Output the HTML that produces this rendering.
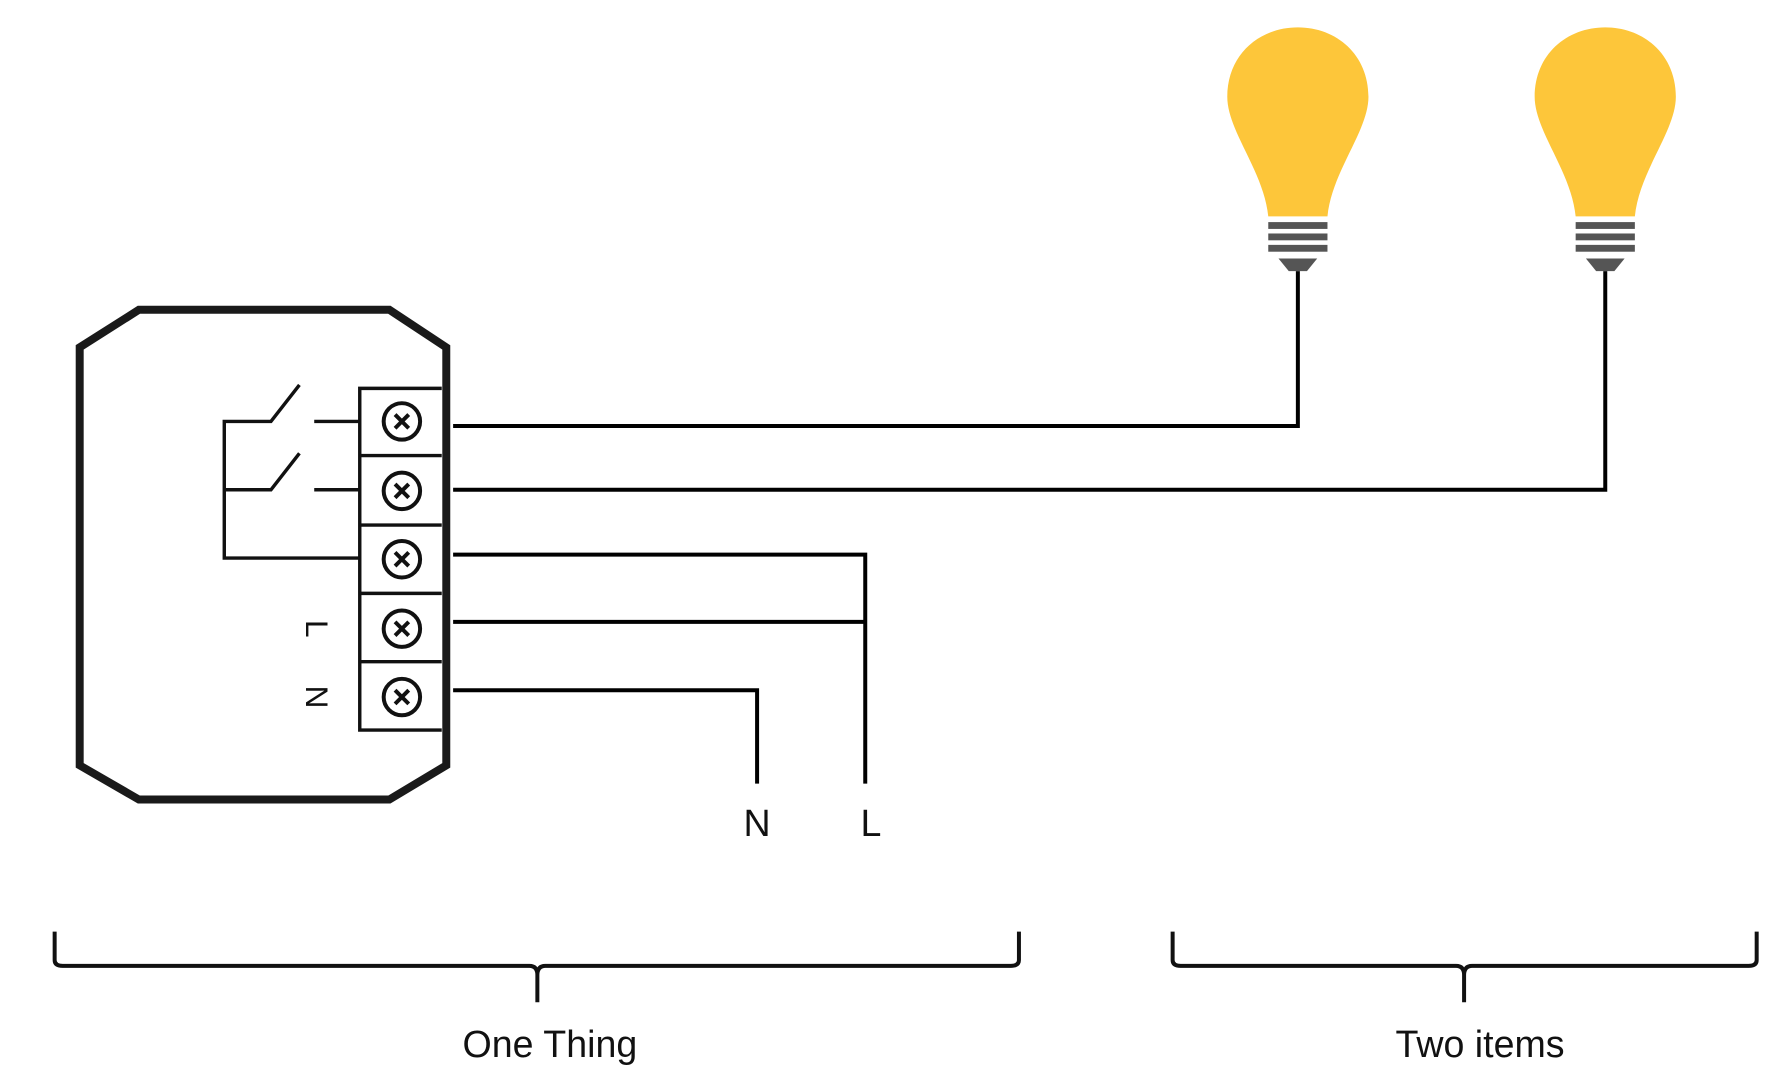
<!DOCTYPE html>
<html><head><style>html,body{margin:0;padding:0;background:#fff;}svg{display:block}</style></head>
<body>
<svg width="1784" height="1082" viewBox="0 0 1567 950" preserveAspectRatio="none" xmlns="http://www.w3.org/2000/svg">
<g fill="none" stroke="#1a1a1a" stroke-linejoin="miter">
<polygon points="122,272 342,272 392,305 392,672 342,702 122,702 70,672 70,305" stroke-width="7"/>
</g>
<g fill="none" stroke="#111" stroke-width="3">
<polyline points="388,341 316,341 316,641 388,641"/>
<line x1="316" y1="400" x2="388" y2="400"/><line x1="316" y1="461" x2="388" y2="461"/>
<line x1="316" y1="521" x2="388" y2="521"/><line x1="316" y1="581" x2="388" y2="581"/>
<polyline points="316,490 197,490 197,370 238,370 263,338"/>
<line x1="276" y1="370" x2="316" y2="370"/>
<polyline points="197,430 238,430 263,398"/>
<line x1="276" y1="430" x2="316" y2="430"/>
</g>
<g fill="none" stroke="#111" stroke-width="3.5">
<circle cx="353" cy="370" r="16"/><circle cx="353" cy="431" r="16"/><circle cx="353" cy="491" r="16"/><circle cx="353" cy="552" r="16"/><circle cx="353" cy="612" r="16"/>
<path d="M347 364l12 12M359 364l-12 12M347 425l12 12M359 425l-12 12M347 485l12 12M359 485l-12 12M347 546l12 12M359 546l-12 12M347 606l12 12M359 606l-12 12"/>
</g>
<g font-family="Liberation Sans, sans-serif" font-size="28" fill="#111">
<text transform="translate(276,552) rotate(90)" text-anchor="middle" dominant-baseline="middle">L</text>
<text transform="translate(276,612) rotate(90)" text-anchor="middle" dominant-baseline="middle">N</text>
</g>
<g fill="none" stroke="#000" stroke-width="3.5">
<polyline points="398,374 1140,374 1140,238"/>
<polyline points="398,430 1410,430 1410,238"/>
<polyline points="398,487 760,487 760,688"/>
<line x1="398" y1="546" x2="760" y2="546"/>
<polyline points="398,606 665,606 665,688"/>
</g>
<g font-family="Liberation Sans, sans-serif" font-size="33" fill="#111" text-anchor="middle">
<text x="665" y="734">N</text><text x="765" y="734">L</text>
<text x="483" y="928">One Thing</text><text x="1300" y="928">Two items</text>
</g>
<g fill="none" stroke="#111" stroke-width="3.5">
<path d="M48 818 V843 Q48 848 55 848 H465 Q472 848 472 856 V880 M472 856 Q472 848 479 848 H888 Q895 848 895 843 V818"/>
<path d="M1030 818 V843 Q1030 848 1037 848 H1279 Q1286 848 1286 856 V880 M1286 856 Q1286 848 1293 848 H1536 Q1543 848 1543 843 V818"/>
</g>
<defs>
<g id="bulb">
<path d="M-26 190 C-30 150 -62 115 -62 85 C-62 48 -34 24 0 24 C34 24 62 48 62 85 C62 115 30 150 26 190 Z" fill="#fdc63a"/>
<g fill="#555"><rect x="-26" y="195" width="52" height="6"/><rect x="-26" y="205" width="52" height="6"/><rect x="-26" y="215" width="52" height="6"/><path d="M-17 227 H17 L8 238 H-8 Z"/></g>
</g>
</defs>
<use href="#bulb" x="1140"/><use href="#bulb" x="1410"/>
</svg>
</body></html>
